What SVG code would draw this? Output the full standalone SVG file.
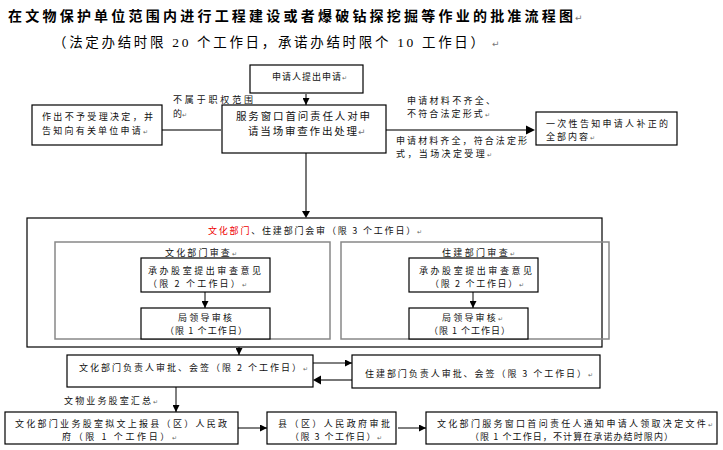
<svg xmlns="http://www.w3.org/2000/svg" width="723" height="450" viewBox="0 0 723 450">
<defs>
<style>
.t{font-family:"Noto Sans CJK SC","Noto Sans CJK JP",sans-serif;font-size:9px;fill:#111}
.m{font-size:10.5px}
.ti{font-family:"Noto Sans CJK SC",sans-serif;font-size:14px;font-weight:bold;fill:#000}
.st{font-family:"Liberation Serif","Noto Sans CJK SC",serif;font-size:13.5px;fill:#000}
.pm{font-family:"DejaVu Sans",sans-serif;font-size:9px;fill:#777}
.sm{font-size:6px;fill:#666}
.box{fill:#fff;stroke:#000;stroke-width:1.2}
.gbox{fill:none;stroke:#888;stroke-width:1.5}
.obox{fill:none;stroke:#000;stroke-width:1.2}
.c{stroke:#000;stroke-width:1;fill:none}
.cg{stroke:#777;stroke-width:2;fill:none}
.red{fill:#e00}
</style>
<marker id="ah" viewBox="0 0 8 8" refX="8" refY="4" markerWidth="7" markerHeight="7" markerUnits="userSpaceOnUse" orient="auto">
<path d="M0,0 L8,4 L0,8 z" fill="#000"/>
</marker>
</defs>
<rect width="723" height="450" fill="#fff"/>

<g id="title">
<text class="ti" x="8" y="21" textLength="565" lengthAdjust="spacing">在文物保护单位范围内进行工程建设或者爆破钻探挖掘等作业的批准流程图</text>
<text class="pm" x="575" y="21">↵</text>
<text class="st" x="53" y="47" textLength="431" lengthAdjust="spacing">（法定办结时限 20 个工作日，承诺办结时限个 10 工作日）</text>
<text class="pm" x="492" y="47">↵</text>
</g>

<g id="connectors">
<line class="c" x1="306" y1="94" x2="306" y2="105" marker-end="url(#ah)"/>
<line class="cg" x1="162" y1="130" x2="221" y2="130"/>
<line class="cg" x1="386" y1="130" x2="526" y2="130"/>
<path d="M526,125.5 L535,130 L526,134.5 z" fill="#000"/>
<line class="cg" x1="306" y1="153" x2="306" y2="212"/>
<path d="M302,211 L306,218 L310,211 z" fill="#000"/>
<line class="c" x1="205" y1="292" x2="205" y2="308" marker-end="url(#ah)"/>
<line class="c" x1="473" y1="292" x2="473" y2="308" marker-end="url(#ah)"/>
<line class="c" x1="239" y1="347" x2="239" y2="355" marker-end="url(#ah)"/>
<line class="c" x1="313" y1="363" x2="352" y2="363" marker-end="url(#ah)"/>
<line class="cg" x1="352" y1="380" x2="320" y2="380"/>
<path d="M321,375.5 L313,380 L321,384.5 z" fill="#000"/>
<line class="c" x1="176" y1="387" x2="176" y2="412" marker-end="url(#ah)"/>
<line class="c" x1="238" y1="428" x2="267" y2="428" marker-end="url(#ah)"/>
<line class="c" x1="398" y1="428" x2="426" y2="428" marker-end="url(#ah)"/>
</g>

<g id="n_apply">
<rect class="box" x="250" y="65" width="113" height="28"/>
<text class="t" x="272" y="80" textLength="75" lengthAdjust="spacing">申请人提出申请<tspan class="sm">↵</tspan></text>
</g>

<g id="n_window">
<rect class="box" x="222" y="105" width="164" height="48"/>
<text class="t m" x="236" y="120" textLength="134" lengthAdjust="spacing">服务窗口首问责任人对申</text>
<text class="t m" x="248" y="135" textLength="109" lengthAdjust="spacing">请当场审查作出处理</text>
<text class="pm" x="358" y="135">↵</text>
</g>

<g id="n_reject">
<rect class="box" x="32" y="105" width="130" height="40"/>
<text class="t" x="42" y="120" textLength="111" lengthAdjust="spacing">作出不予受理决定，并</text>
<text class="t" x="42" y="134" textLength="106" lengthAdjust="spacing">告知向有关单位申请<tspan class="sm">↵</tspan></text>
</g>

<g id="lbl_outscope">
<text class="t" x="173" y="103" textLength="80" lengthAdjust="spacing">不属于职权范围</text>
<text class="t" x="173" y="116.5">的<tspan class="sm">↵</tspan></text>
</g>

<g id="lbl_incomplete">
<text class="t" x="407" y="103.5" textLength="88" lengthAdjust="spacing">申请材料不齐全、</text>
<text class="t" x="407" y="117" textLength="83" lengthAdjust="spacing">不符合法定形式<tspan class="sm">↵</tspan></text>
</g>

<g id="lbl_complete">
<text class="t" x="396" y="143.5" textLength="131" lengthAdjust="spacing">申请材料齐全，符合法定形</text>
<text class="t" x="396" y="156.5" textLength="96" lengthAdjust="spacing">式，当场决定受理<tspan class="sm">↵</tspan></text>
</g>

<g id="n_notify">
<rect class="box" x="536" y="112" width="141" height="33"/>
<text class="t" x="546" y="126.5" textLength="122" lengthAdjust="spacing">一次性告知申请人补正的</text>
<text class="t" x="546" y="139.5" textLength="49" lengthAdjust="spacing">全部内容<tspan class="sm">↵</tspan></text>
</g>

<g id="n_joint">
<rect class="obox" x="27" y="218" width="575" height="129"/>
<text class="t" x="208" y="234" textLength="214" lengthAdjust="spacing"><tspan class="red">文化部门</tspan>、住建部门会审（限 3 个工作日）<tspan class="sm">↵</tspan></text>
</g>

<g id="n_culture_review">
<rect class="gbox" x="55" y="242" width="275" height="97"/>
<text class="t" x="165" y="256" textLength="72" lengthAdjust="spacing">文化部门审查<tspan class="sm">↵</tspan></text>
</g>
<g id="n_culture_office">
<rect class="box" x="141" y="258" width="129" height="34"/>
<text class="t" x="148" y="273.5" textLength="113" lengthAdjust="spacing">承办股室提出审查意见</text>
<text class="t" x="148" y="286.5" textLength="99" lengthAdjust="spacing">（限 2 个工作日）<tspan class="sm">↵</tspan></text>
</g>
<g id="n_culture_leader">
<rect class="box" x="141" y="308" width="129" height="31"/>
<text class="t" x="178" y="320.5" textLength="54" lengthAdjust="spacing">局领导审核</text>
<text class="t" x="165" y="333.5" textLength="82" lengthAdjust="spacing">（限 1 个工作日）</text>
</g>

<g id="n_housing_review">
<rect class="gbox" x="341" y="242" width="268" height="97"/>
<text class="t" x="442" y="256" textLength="73" lengthAdjust="spacing">住建部门审查<tspan class="sm">↵</tspan></text>
</g>
<g id="n_housing_office">
<rect class="box" x="409" y="258" width="129" height="34"/>
<text class="t" x="419" y="273.5" textLength="113" lengthAdjust="spacing">承办股室提出审查意见</text>
<text class="t" x="430" y="286.5" textLength="94" lengthAdjust="spacing">（限 2 个工作日）<tspan class="sm">↵</tspan></text>
</g>
<g id="n_housing_leader">
<rect class="box" x="409" y="308" width="119" height="31"/>
<text class="t" x="442" y="320.5" textLength="61" lengthAdjust="spacing">局领导审核<tspan class="sm">↵</tspan></text>
<text class="t" x="429" y="333.5" textLength="81" lengthAdjust="spacing">（限 1 个工作日）</text>
</g>

<g id="n_culture_head">
<rect class="box" x="67" y="355" width="246" height="32"/>
<text class="t" x="79" y="371" textLength="229" lengthAdjust="spacing">文化部门负责人审批、会签（限 2 个工作日）<tspan class="sm">↵</tspan></text>
</g>

<g id="n_housing_head">
<rect class="box" x="352" y="355" width="248" height="33"/>
<text class="t" x="365" y="377" textLength="228" lengthAdjust="spacing">住建部门负责人审批、会签（限 3 个工作日）<tspan class="sm">↵</tspan></text>
</g>

<g id="lbl_summary">
<text class="t" x="64" y="404" textLength="94" lengthAdjust="spacing">文物业务股室汇总<tspan class="sm">↵</tspan></text>
</g>

<g id="n_report">
<rect class="box" x="5" y="412" width="233" height="32"/>
<text class="t" x="15" y="426.5" textLength="212" lengthAdjust="spacing">文化部门业务股室拟文上报县（区）人民政</text>
<text class="t" x="62" y="439.5" textLength="115" lengthAdjust="spacing">府（限 1 个工作日）<tspan class="sm">↵</tspan></text>
</g>

<g id="n_county">
<rect class="box" x="267" y="412" width="129" height="32"/>
<text class="t" x="278" y="426.5" textLength="112" lengthAdjust="spacing">县（区）人民政府审批</text>
<text class="t" x="290" y="439.5" textLength="92" lengthAdjust="spacing">（限 3 个工作日）<tspan class="sm">↵</tspan></text>
</g>

<g id="n_final">
<rect class="box" x="426" y="412" width="291" height="32"/>
<text class="t" x="437" y="426.5" textLength="276" lengthAdjust="spacing">文化部门服务窗口首问责任人通知申请人领取决定文件<tspan class="sm">↵</tspan></text>
<text class="t" x="470" y="439.5" textLength="203" lengthAdjust="spacing">（限 1 个工作日，不计算在承诺办结时限内）</text>
</g>
</svg>
